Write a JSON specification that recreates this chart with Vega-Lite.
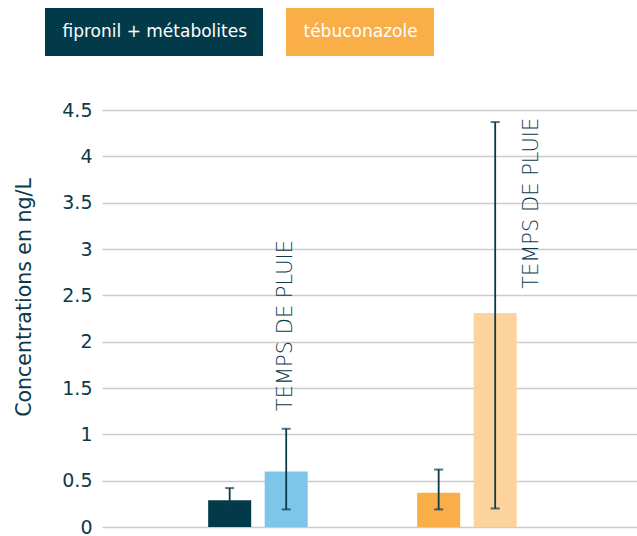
{
  "$schema": "https://vega.github.io/schema/vega-lite/v6.json",
  "width": 535,
  "height": 417,
  "autosize": {"type": "none"},
  "padding": {"left": 102, "top": 110, "right": 0, "bottom": 9},
  "background": "white",
  "config": {
    "view": {"stroke": null},
    "font": "DejaVu Sans",
    "axisY": {
      "domain": false,
      "ticks": false,
      "gridColor": "#cccccc",
      "gridWidth": 1.6,
      "labelFont": "DejaVu Sans",
      "labelFontSize": 19,
      "labelColor": "#0b3a4b",
      "labelPadding": 10,
      "titleFont": "DejaVu Sans",
      "titleFontSize": 20.5,
      "titleFontWeight": "normal",
      "titleColor": "#0b3a4b"
    }
  },
  "data": {
    "values": [
      {"groupe": "fipronil + métabolites", "temps": "sec", "serie": "fipronil sec", "concentration": 0.29, "min": 0.19, "max": 0.42},
      {"groupe": "fipronil + métabolites", "temps": "pluie", "serie": "fipronil pluie", "concentration": 0.60, "min": 0.19, "max": 1.06},
      {"groupe": "tébuconazole", "temps": "sec", "serie": "tébuconazole sec", "concentration": 0.37, "min": 0.19, "max": 0.62},
      {"groupe": "tébuconazole", "temps": "pluie", "serie": "tébuconazole pluie", "concentration": 2.31, "min": 0.20, "max": 4.37}
    ]
  },
  "encoding": {
    "x": {
      "field": "groupe",
      "type": "nominal",
      "axis": null,
      "sort": ["fipronil + métabolites", "tébuconazole"],
      "scale": {"paddingInner": 0.33, "paddingOuter": 0.445, "align": 0.462}
    },
    "xOffset": {
      "field": "temps",
      "type": "nominal",
      "sort": ["sec", "pluie"],
      "scale": {"domain": ["sec", "pluie"], "paddingInner": 0.239, "paddingOuter": 0.358}
    }
  },
  "layer": [
    {
      "mark": {"type": "bar"},
      "encoding": {
        "y": {
          "field": "concentration",
          "type": "quantitative",
          "title": "Concentrations en ng/L",
          "scale": {"domain": [0, 4.5], "nice": false},
          "axis": {
            "values": [0, 0.5, 1, 1.5, 2, 2.5, 3, 3.5, 4, 4.5],
            "format": "~g",
            "titleX": -78,
            "titleY": 187,
            "titleAngle": 270,
            "titleAlign": "center",
            "titleBaseline": "middle"
          }
        },
        "color": {
          "field": "serie",
          "type": "nominal",
          "scale": {
            "domain": ["fipronil sec", "fipronil pluie", "tébuconazole sec", "tébuconazole pluie"],
            "range": ["#033a4a", "#7dc5e9", "#f9ae48", "#fdd39d"]
          },
          "legend": null
        }
      }
    },
    {
      "mark": {"type": "rule", "color": "#0b3a4b", "strokeWidth": 1.8},
      "encoding": {
        "y": {"field": "min", "type": "quantitative", "title": "Concentrations en ng/L"},
        "y2": {"field": "max"}
      }
    },
    {
      "mark": {"type": "tick", "color": "#0b3a4b", "size": 9, "thickness": 2},
      "encoding": {
        "y": {"field": "min", "type": "quantitative", "title": "Concentrations en ng/L"}
      }
    },
    {
      "mark": {"type": "tick", "color": "#0b3a4b", "size": 9, "thickness": 2},
      "encoding": {
        "y": {"field": "max", "type": "quantitative", "title": "Concentrations en ng/L"}
      }
    },
    {
      "transform": [{"filter": "datum.groupe === 'fipronil + métabolites' && datum.temps === 'pluie'"}],
      "mark": {"type": "text", "text": "TEMPS DE PLUIE", "angle": 270, "align": "left", "baseline": "middle", "fontSize": 21, "fontWeight": 300, "color": "#0b3a4b", "font": "DejaVu Sans"},
      "encoding": {"y": {"datum": 1.25, "type": "quantitative"}}
    },
    {
      "transform": [{"filter": "datum.groupe === 'tébuconazole' && datum.temps === 'pluie'"}],
      "mark": {"type": "text", "text": "TEMPS DE PLUIE", "angle": 270, "align": "left", "baseline": "middle", "fontSize": 21, "fontWeight": 300, "color": "#0b3a4b", "font": "DejaVu Sans", "dy": 37},
      "encoding": {"y": {"datum": 2.57, "type": "quantitative"}}
    },
    {
      "transform": [{"filter": "datum.groupe === 'fipronil + métabolites' && datum.temps === 'sec'"}],
      "mark": {"type": "point", "opacity": 0},
      "encoding": {
        "y": {"field": "concentration", "type": "quantitative", "title": "Concentrations en ng/L"},
        "color": {
          "field": "groupe",
          "type": "nominal",
          "scale": {"domain": ["fipronil + métabolites"], "range": ["#033a4a"]},
          "legend": {
            "orient": "none", "legendX": -57, "legendY": -102, "title": null,
            "fillColor": "#033a4a", "labelColor": "white", "labelFont": "DejaVu Sans",
            "labelFontSize": 17, "labelLimit": 400, "symbolSize": 0, "symbolOpacity": 0, "symbolStrokeWidth": 0,
            "labelOffset": -15, "padding": 15.5
          }
        }
      }
    },
    {
      "transform": [{"filter": "datum.groupe === 'tébuconazole' && datum.temps === 'sec'"}],
      "mark": {"type": "point", "opacity": 0},
      "encoding": {
        "y": {"field": "concentration", "type": "quantitative", "title": "Concentrations en ng/L"},
        "color": {
          "field": "groupe",
          "type": "nominal",
          "scale": {"domain": ["tébuconazole"], "range": ["#f9ae48"]},
          "legend": {
            "orient": "none", "legendX": 184, "legendY": -102, "title": null,
            "fillColor": "#f9ae48", "labelColor": "white", "labelFont": "DejaVu Sans",
            "labelFontSize": 17, "labelLimit": 400, "symbolSize": 0, "symbolOpacity": 0, "symbolStrokeWidth": 0,
            "labelOffset": -15, "padding": 15.5
          }
        }
      }
    }
  ],
  "resolve": {"scale": {"color": "independent"}}
}
